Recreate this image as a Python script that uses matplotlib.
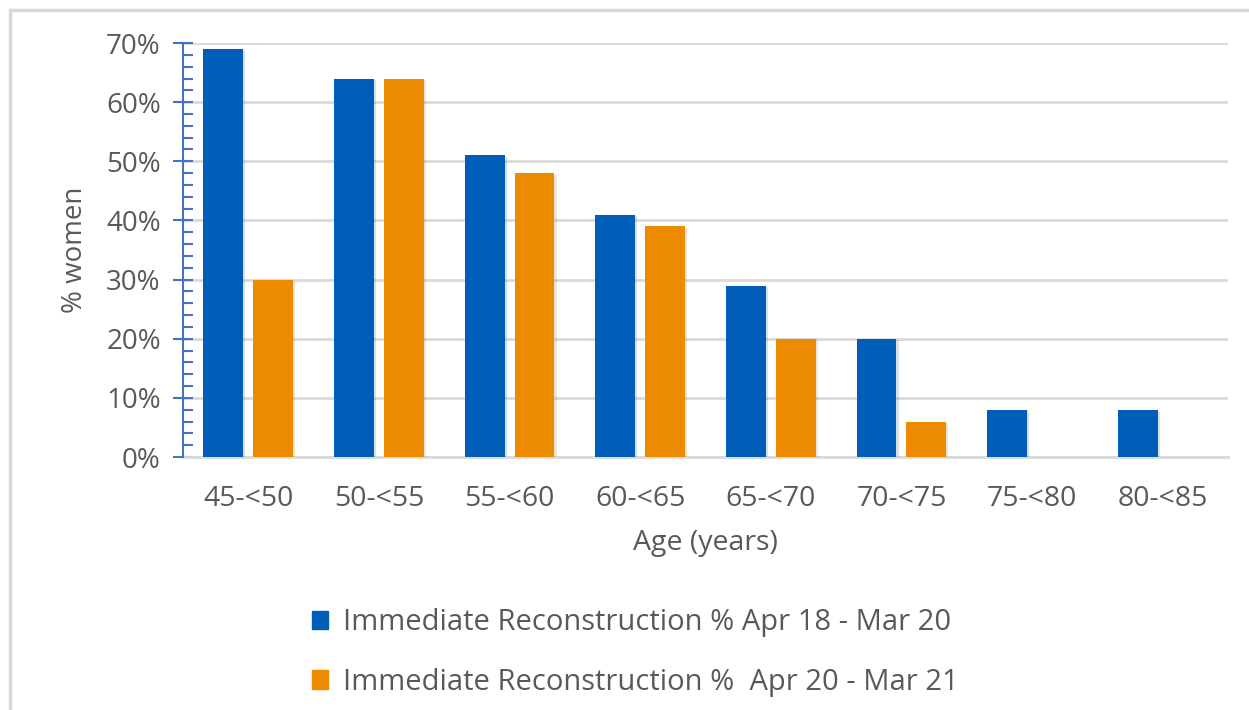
import numpy as np
import matplotlib.pyplot as plt
import matplotlib.patheffects as pe
from matplotlib.patches import Rectangle, Patch
from matplotlib.ticker import MultipleLocator, PercentFormatter

# Immediate reconstruction by age band
faixas = ["45-<50", "50-<55", "55-<60", "60-<65", "65-<70", "70-<75", "75-<80", "80-<85"]
pct_18_20 = [69, 64, 51, 41, 29, 20, 8, 8]
pct_20_21 = [30, 64, 48, 39, 20, 6, 0, 0]
rotulos = ["Immediate Reconstruction % Apr 18 - Mar 20",
           "Immediate Reconstruction %  Apr 20 - Mar 21"]

azul, laranja = '#005EB8', '#ED8B00'
cinza_txt = '#595959'
eixo_azul = '#4472C4'

plt.rcParams['font.family'] = ['Open Sans', 'DejaVu Sans']

fig = plt.figure(figsize=(12.49, 7.10), dpi=100)
ax = fig.add_axes([0.1465, 0.3563, 0.8367, 0.5831])

# moldura clara em volta do grafico
fig.patches.append(Rectangle((10 / 1249, -0.05), 1.1, 1 - 10 / 710 + 0.05,
                             transform=fig.transFigure, fill=False,
                             edgecolor='#D9D9D9', lw=2.5, zorder=0))

x = np.arange(len(faixas))
larg = 0.306
sombra = [pe.SimplePatchShadow(offset=(1.5, -1), alpha=0.15, rho=0.6), pe.Normal()]
b1 = ax.bar(x - larg / 2 - 0.038, pct_18_20, larg, color=azul, zorder=3)
b2 = ax.bar(x + larg / 2 + 0.038, pct_20_21, larg, color=laranja, zorder=3)
for b in list(b1) + list(b2):
    if b.get_height() > 0:
        b.set_path_effects(sombra)

ax.set_xlim(-0.5, len(faixas) - 0.5)
ax.set_ylim(0, 70)
ax.yaxis.set_major_locator(MultipleLocator(10))
ax.yaxis.set_minor_locator(MultipleLocator(2))
ax.yaxis.set_major_formatter(PercentFormatter(decimals=0))
ax.grid(axis='y', color='#D9D9D9', lw=2, zorder=0)

for s in ['top', 'right']:
    ax.spines[s].set_visible(False)
ax.spines['bottom'].set_color('#D9D9D9')
ax.spines['bottom'].set_linewidth(2)
ax.spines['left'].set_color(eixo_azul)
ax.spines['left'].set_linewidth(1.5)
ax.spines['left'].set_zorder(4)

ax.set_xticks(x)
ax.set_xticklabels(faixas)
ax.tick_params(axis='x', length=0, pad=20, labelsize=20.5, labelcolor=cinza_txt)
ax.tick_params(axis='y', which='major', direction='inout', length=14, width=1.5,
               color=eixo_azul, pad=9, labelsize=20, labelcolor=cinza_txt)
ax.tick_params(axis='y', which='minor', direction='in', length=7, width=1.5, color=eixo_azul)

ax.set_xlabel('Age (years)', fontsize=20.5, color=cinza_txt, labelpad=12)
ax.set_ylabel('% women', fontsize=20, color=cinza_txt, labelpad=12)

handles = [Patch(color=azul), Patch(color=laranja)]
fig.legend(handles, rotulos, loc='center left', bbox_to_anchor=(0.229, 0.081),
           bbox_transform=fig.transFigure, frameon=False, fontsize=21,
           labelcolor=cinza_txt, handlelength=0.55, handleheight=0.6,
           handletextpad=0.5, labelspacing=1.05)

fig.savefig('out.png', dpi=100)
